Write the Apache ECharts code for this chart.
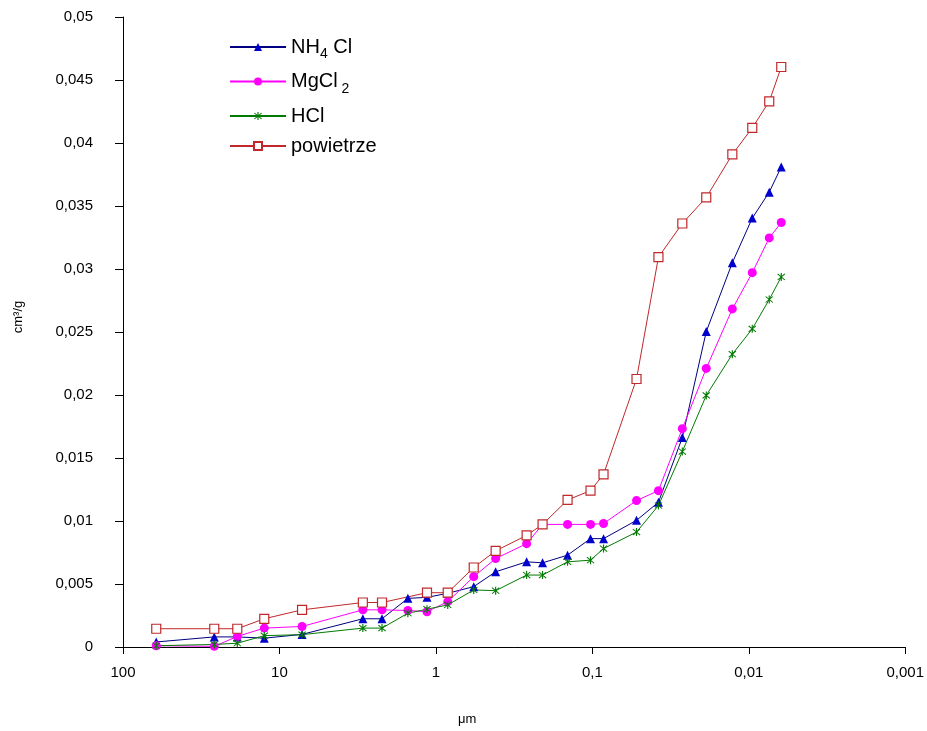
<!DOCTYPE html>
<html><head><meta charset="utf-8">
<script src="https://cdn.jsdelivr.net/npm/echarts@6/dist/echarts.min.js"></script>
<style>html,body{margin:0;padding:0;background:#fff}#c{width:927px;height:731px}</style>
</head><body><div id="c"></div>
<script>
// pore size (µm)
const poreSizes = [61.3, 26.1, 18.6, 12.5, 7.17, 2.93, 2.21, 1.51, 1.14, 0.84, 0.573, 0.415, 0.263, 0.208, 0.144, 0.1027, 0.0848, 0.0522, 0.0378, 0.0266, 0.0187, 0.01274, 0.0095, 0.0074, 0.0062];
const nh4cl = [0.0004, 0.0008, 0.0008, 0.0007, 0.0010, 0.00224, 0.00224, 0.00386, 0.00394, 0.00426, 0.00479, 0.00597, 0.00676, 0.00668, 0.00729, 0.0086, 0.0086, 0.01005, 0.01149, 0.01662, 0.02503, 0.0305, 0.03404, 0.0361, 0.0381];
const mgcl2 = [0.0001, 0.00005, 0.00084, 0.0015, 0.00163, 0.00295, 0.00295, 0.0029, 0.0028, 0.0036, 0.00558, 0.00702, 0.0082, 0.00973, 0.00973, 0.00973, 0.0098, 0.01162, 0.01241, 0.01733, 0.02211, 0.02683, 0.02971, 0.03247, 0.03369];
const hcl = [0.0001, 0.0002, 0.0003, 0.0009, 0.00098, 0.0015, 0.0015, 0.00268, 0.0030, 0.00334, 0.00453, 0.00447, 0.00571, 0.00571, 0.00676, 0.00689, 0.00781, 0.00912, 0.01123, 0.01551, 0.01997, 0.02324, 0.02525, 0.02758, 0.02937];
const powietrze = [0.00145, 0.00145, 0.00145, 0.00224, 0.00295, 0.00353, 0.00353, null, 0.00431, 0.00431, 0.00631, 0.00763, 0.00886, 0.00973, 0.01167, 0.01241, 0.0137, 0.02127, 0.03094, 0.03361, 0.03568, 0.03909, 0.0412, 0.0433, 0.04603];
const seriesNames = ['NH4Cl', 'MgCl2', 'HCl', 'powietrze'];
const xTickLabels = ['100', '10', '1', '0,1', '0,01', '0,001'];

const star = 'path://M4.4,0 L5.6,0 L5.6,10 L4.4,10 Z M0.8,1.6 L1.6,0.8 L9.2,8.4 L8.4,9.2 Z M8.4,0.8 L9.2,1.6 L1.6,9.2 L0.8,8.4 Z';
function pairs(arr) { return poreSizes.map((x, i) => [x, arr[i]]).filter(p => p[1] !== null); }
const legendLabels = {
  'NH4Cl': 'NH{sub|4}{n| Cl}',
  'MgCl2': 'MgCl{sub| 2}',
  'HCl': 'HCl',
  'powietrze': 'powietrze'
};
const chart = echarts.init(document.getElementById('c'), null, {renderer: 'canvas'});
const font = 'Liberation Sans, Arial, sans-serif';
chart.setOption({
  backgroundColor: '#fff',
  animation: false,
  grid: {left: 123, right: 21, top: 17, bottom: 80, containLabel: false},
  legend: {
    orient: 'vertical', left: 224, top: 32, itemWidth: 56, itemHeight: 10, itemGap: 10,
    data: seriesNames,
    formatter: n => legendLabels[n],
    textStyle: {fontFamily: font, fontSize: 20, color: '#000',
      rich: {sub: {fontSize: 14, fontFamily: font, color: '#000', padding: [15, 0, 0, 0]},
             n: {fontSize: 20, fontFamily: font, color: '#000'}}}
  },
  xAxis: {
    type: 'log', logBase: 10, min: 0.001, max: 100, inverse: true,
    name: 'μm', nameLocation: 'middle', nameGap: 66,
    nameTextStyle: {fontFamily: font, fontSize: 13, color: '#000', padding: [0, 94, 0, 0]},
    axisLine: {lineStyle: {color: '#000', width: 1}},
    axisTick: {show: true, length: 7, lineStyle: {color: '#000'}},
    minorTick: {show: false},
    splitLine: {show: false},
    axisLabel: {fontFamily: font, fontSize: 15, color: '#000', margin: 18,
      formatter: v => {
        const e = Math.round(Math.log10(v));
        return xTickLabels[2 - e];
      }}
  },
  yAxis: {
    type: 'value', min: 0, max: 0.05, interval: 0.005,
    name: 'cm³/g', nameLocation: 'middle', nameGap: 98, nameRotate: 90,
    nameTextStyle: {fontFamily: font, fontSize: 13, color: '#000', padding: [0, 0, 0, 30]},
    axisLine: {show: true, lineStyle: {color: '#000', width: 1}},
    axisTick: {show: true, length: 8, lineStyle: {color: '#000'}},
    splitLine: {show: false},
    axisLabel: {fontFamily: font, fontSize: 15, color: '#000', margin: 30,
      formatter: v => String(Number(v.toFixed(3))).replace('.', ',')}
  },
  series: [
    {name: 'NH4Cl', type: 'line', data: pairs(nh4cl), symbol: 'triangle', symbolSize: 9,
     lineStyle: {color: '#000080', width: 1}, itemStyle: {color: '#0000CC'}},
    {name: 'MgCl2', type: 'line', data: pairs(mgcl2), symbol: 'circle', symbolSize: 9,
     lineStyle: {color: '#FF00FF', width: 1}, itemStyle: {color: '#FF00FF'}},
    {name: 'HCl', type: 'line', data: pairs(hcl), symbol: star, symbolSize: 8,
     lineStyle: {color: '#007A00', width: 1}, itemStyle: {color: '#007A00'}},
    {name: 'powietrze', type: 'line', data: pairs(powietrze), symbol: 'rect', symbolSize: 9,
     lineStyle: {color: '#C0282A', width: 1}, itemStyle: {color: '#fff', borderColor: '#C0282A', borderWidth: 1.2}}
  ]
});
</script></body></html>
